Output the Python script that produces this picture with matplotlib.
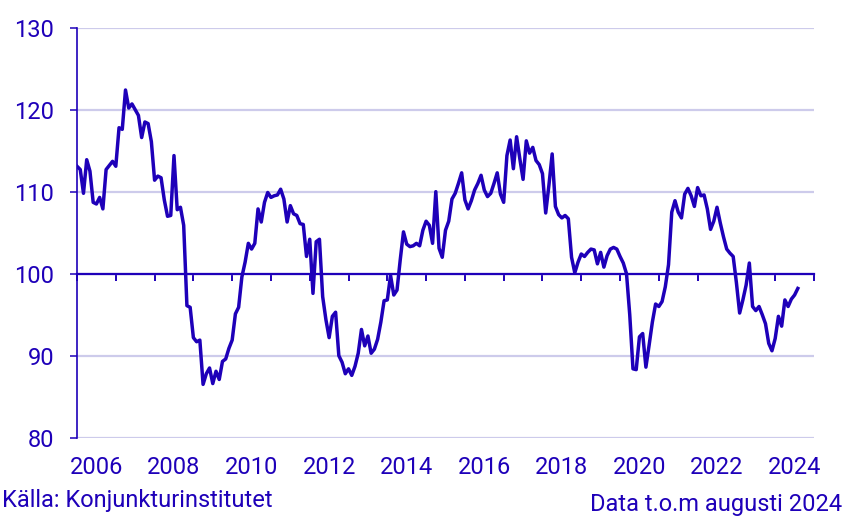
import numpy as np
import matplotlib.pyplot as plt
import matplotlib.transforms as mtransforms

plt.rcParams['font.family'] = ['Roboto', 'DejaVu Sans']

# monthly index, Jan 2006 - Aug 2024
start_year = 2006
index_values = [
    113.1, 112.7, 109.8, 113.9, 112.5, 108.7, 108.5, 109.3, 107.9, 112.7, 113.2, 113.7,  # 2006
    113.1, 117.8, 117.6, 122.4, 120.2, 120.7, 120.0, 119.3, 116.6, 118.5, 118.3, 116.1,  # 2007
    111.4, 111.9, 111.7, 109.0, 107.0, 107.1, 114.4, 107.8, 108.1, 105.9, 96.1, 95.9,    # 2008
    92.2, 91.7, 91.9, 86.5, 87.8, 88.5, 86.6, 88.1, 87.1, 89.3, 89.6, 90.9,              # 2009
    91.9, 95.1, 95.9, 99.6, 101.4, 103.7, 103.0, 103.7, 107.9, 106.3, 108.7, 109.9,      # 2010
    109.3, 109.5, 109.6, 110.3, 109.1, 106.3, 108.3, 107.3, 107.1, 106.1, 106.0, 102.1,  # 2011
    104.2, 97.6, 103.9, 104.2, 97.2, 94.4, 92.2, 94.8, 95.3, 90.0, 89.2, 87.8,           # 2012
    88.4, 87.6, 88.7, 90.3, 93.2, 91.2, 92.4, 90.3, 90.8, 92.0, 94.1, 96.7,              # 2013
    96.8, 99.8, 97.4, 98.0, 101.7, 105.1, 103.6, 103.3, 103.4, 103.7, 103.4, 105.3,      # 2014
    106.4, 105.9, 103.7, 110.0, 103.1, 102.0, 105.3, 106.4, 109.1, 109.8, 111.0, 112.3,  # 2015
    109.0, 107.9, 108.9, 110.2, 111.0, 112.0, 110.2, 109.4, 109.8, 111.0, 112.3, 109.7,  # 2016
    108.7, 114.4, 116.3, 112.8, 116.7, 114.0, 111.5, 116.2, 114.7, 115.4, 113.8, 113.3,  # 2017
    112.2, 107.4, 110.8, 114.6, 108.2, 107.2, 106.8, 107.1, 106.7, 102.0, 100.1, 101.4,  # 2018
    102.4, 102.1, 102.6, 103.0, 102.9, 101.2, 102.6, 100.8, 102.2, 103.0, 103.2, 103.0,  # 2019
    102.1, 101.3, 100.0, 95.0, 88.4, 88.3, 92.3, 92.7, 88.6, 91.3, 94.1, 96.3,           # 2020
    96.0, 96.6, 98.4, 101.1, 107.5, 108.9, 107.5, 106.8, 109.7, 110.4, 109.5, 108.2,     # 2021
    110.5, 109.5, 109.6, 107.9, 105.4, 106.4, 108.1, 106.2, 104.5, 103.0, 102.5, 102.1,  # 2022
    98.9, 95.2, 96.8, 98.6, 101.3, 96.0, 95.5, 96.0, 95.0, 93.9, 91.5, 90.6,             # 2023
    92.1, 94.8, 93.6, 96.8, 96.0, 96.9, 97.4, 98.2,                                      # 2024
]
label_years = [2006, 2008, 2010, 2012, 2014, 2016, 2018, 2020, 2022, 2024]
y_ticks = [80, 90, 100, 110, 120, 130]

BLUE = '#1e00b9'
GRID = '#cdcbeb'
FS = 17

x = start_year + np.arange(len(index_values)) / 12

fig = plt.figure(figsize=(8.51, 5.25), dpi=100)
ax = fig.add_axes([0.0905, 0.1663, 0.866, 0.781])

ax.plot(x, index_values, color=BLUE, lw=2.5, zorder=3)

ax.set_xlim(2006, 2025)
ax.set_ylim(80, 130)

# axis drawn through 100
ax.spines['top'].set_visible(False)
ax.spines['right'].set_visible(False)
ax.spines['bottom'].set_position(('data', 100))
ax.spines['bottom'].set_color(BLUE)
ax.spines['bottom'].set_linewidth(1.6)
ax.spines['left'].set_color(BLUE)
ax.spines['left'].set_linewidth(1.2)

ax.set_xticks(range(2006, 2026))
ax.tick_params(axis='x', direction='out', length=5, width=1.4, color=BLUE, labelbottom=False)
ax.set_yticks(y_ticks)
ax.tick_params(axis='y', length=5, width=1.1, color=BLUE, labelcolor=BLUE,
               labelsize=FS, pad=11.5)

ax.grid(axis='y', color=GRID, lw=1.6)
ax.set_axisbelow(True)

trans = mtransforms.blended_transform_factory(ax.transData, ax.transAxes)
for yr in label_years:
    ax.text(yr + 0.5, -0.073, str(yr), transform=trans, ha='center', va='center',
            color=BLUE, fontsize=FS)

fig.text(0.002, 1 - 501 / 525, 'Källa: Konjunkturinstitutet', ha='left', va='center',
         color=BLUE, fontsize=FS)
fig.text(0.990, 1 - 505 / 525, 'Data t.o.m augusti 2024', ha='right', va='center',
         color=BLUE, fontsize=FS)

fig.savefig('out.png', dpi=100)
